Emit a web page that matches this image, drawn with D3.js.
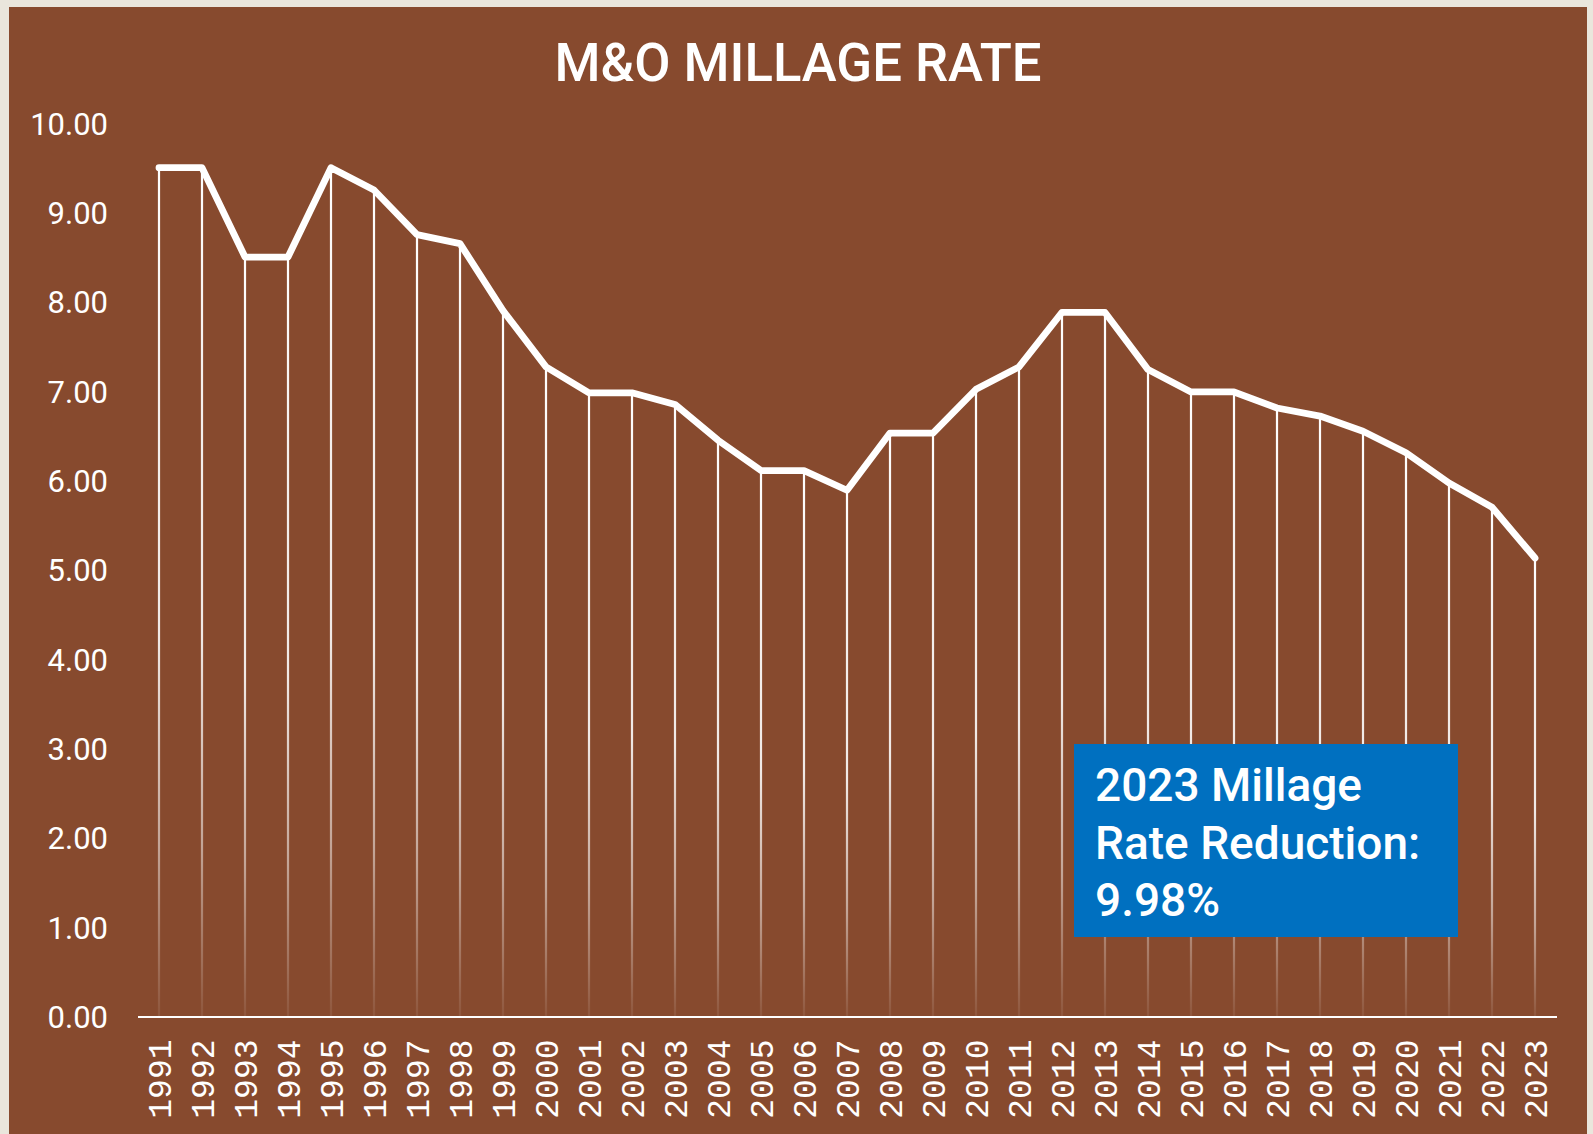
<!DOCTYPE html>
<html>
<head>
<meta charset="utf-8">
<script src="https://cdn.jsdelivr.net/npm/d3@7"></script>
<style>
  html, body { margin: 0; padding: 0; background: #EAE6DC; }
  svg { display: block; }
</style>
</head>
<body>
<svg id="chart" width="1593" height="1134"></svg>
<script>
// M&O millage rate by tax year
const years = [1991, 1992, 1993, 1994, 1995, 1996, 1997, 1998, 1999, 2000,
               2001, 2002, 2003, 2004, 2005, 2006, 2007, 2008, 2009, 2010,
               2011, 2012, 2013, 2014, 2015, 2016, 2017, 2018, 2019, 2020,
               2021, 2022, 2023];
const rates = [9.50, 9.50, 8.50, 8.50, 9.50, 9.25, 8.75, 8.65, 7.90, 7.27,
               6.98, 6.98, 6.85, 6.45, 6.11, 6.11, 5.89, 6.53, 6.53, 7.02,
               7.27, 7.88, 7.88, 7.24, 6.99, 6.99, 6.81, 6.72, 6.55, 6.31,
               5.97, 5.70, 5.131];
const yTicks = [0, 1, 2, 3, 4, 5, 6, 7, 8, 9, 10];
const titleText = "M&O MILLAGE RATE";
const noteLines = ["2023 Millage", "Rate Reduction:", "9.98%"];

const W = 1593, H = 1134;
const svg = d3.select("#chart");

const brown = "#874A2E";
const sansFont = "Roboto, 'Open Sans', sans-serif";
const monoFont = "'Liberation Mono', 'DejaVu Sans Mono', monospace";

// panel
svg.append("rect")
  .attr("x", 9).attr("y", 7)
  .attr("width", 1578).attr("height", H)
  .attr("fill", brown);

// title
svg.append("text")
  .attr("x", 798).attr("y", 81)
  .attr("text-anchor", "middle")
  .attr("fill", "#fff")
  .attr("font-family", sansFont)
  .attr("font-weight", 500)
  .attr("font-size", 54)
  .attr("textLength", 487)
  .attr("lengthAdjust", "spacingAndGlyphs")
  .text(titleText);

// scales
const x = d3.scaleBand().domain(years).range([137.5, 1556.5]).padding(0);
const cx = d => x(d) + x.bandwidth() / 2;
const y = d3.scaleLinear().domain([0, 10]).range([1016.5, 123]);

const data = years.map((yr, i) => ({ year: yr, value: rates[i] }));

// fading gradient for the drop lines
const defs = svg.append("defs");
const grad = defs.append("linearGradient")
  .attr("id", "dropFade")
  .attr("x1", 0).attr("y1", 0).attr("x2", 0).attr("y2", 1);
[[0, 1], [0.25, 0.92], [0.55, 0.88], [0.8, 0.5], [1, 0.07]].forEach(([o, a]) => {
  grad.append("stop").attr("offset", o).attr("stop-color", "#fff").attr("stop-opacity", a);
});

// drop lines from each point to the baseline
svg.append("g").selectAll("rect")
  .data(data)
  .join("rect")
  .attr("x", d => cx(d.year) - 1.1)
  .attr("y", d => y(d.value))
  .attr("width", 2.2)
  .attr("height", d => y(0) - y(d.value))
  .attr("fill", "url(#dropFade)");

// y axis labels
const yAxis = svg.append("g")
  .attr("transform", "translate(108,0)")
  .call(d3.axisLeft(y).tickValues(yTicks).tickFormat(d3.format(".2f")).tickSize(0).tickPadding(0));
yAxis.select(".domain").remove();
yAxis.selectAll("text")
  .attr("fill", "#fff")
  .attr("font-family", sansFont)
  .attr("font-size", 31)
  .attr("dy", "0.36em");

// x axis
const xAxis = svg.append("g")
  .attr("transform", `translate(0,${y(0)})`)
  .call(d3.axisBottom(x).tickSize(0).tickSizeOuter(0));
xAxis.select(".domain").attr("stroke", "#fff").attr("stroke-width", 2.2);
xAxis.selectAll("text")
  .attr("transform", "rotate(-90)")
  .attr("x", -23)
  .attr("y", 0)
  .attr("dy", "0.36em")
  .attr("text-anchor", "end")
  .attr("fill", "#fff")
  .attr("font-family", monoFont)
  .attr("font-size", 33);

// rate line
svg.append("path")
  .datum(data)
  .attr("fill", "none")
  .attr("stroke", "#fff")
  .attr("stroke-width", 6.8)
  .attr("stroke-linecap", "round")
  .attr("stroke-linejoin", "round")
  .attr("d", d3.line().x(d => cx(d.year)).y(d => y(d.value)));

// annotation box
const note = svg.append("g");
note.append("rect")
  .attr("x", 1074).attr("y", 744)
  .attr("width", 384).attr("height", 193)
  .attr("fill", "#0070C0");
note.selectAll("text")
  .data(noteLines)
  .join("text")
  .attr("x", 1095)
  .attr("y", (d, i) => 801 + i * 57.5)
  .attr("fill", "#fff")
  .attr("font-family", sansFont)
  .attr("font-weight", 500)
  .attr("font-size", 46)
  .text(d => d);
</script>
</body>
</html>
